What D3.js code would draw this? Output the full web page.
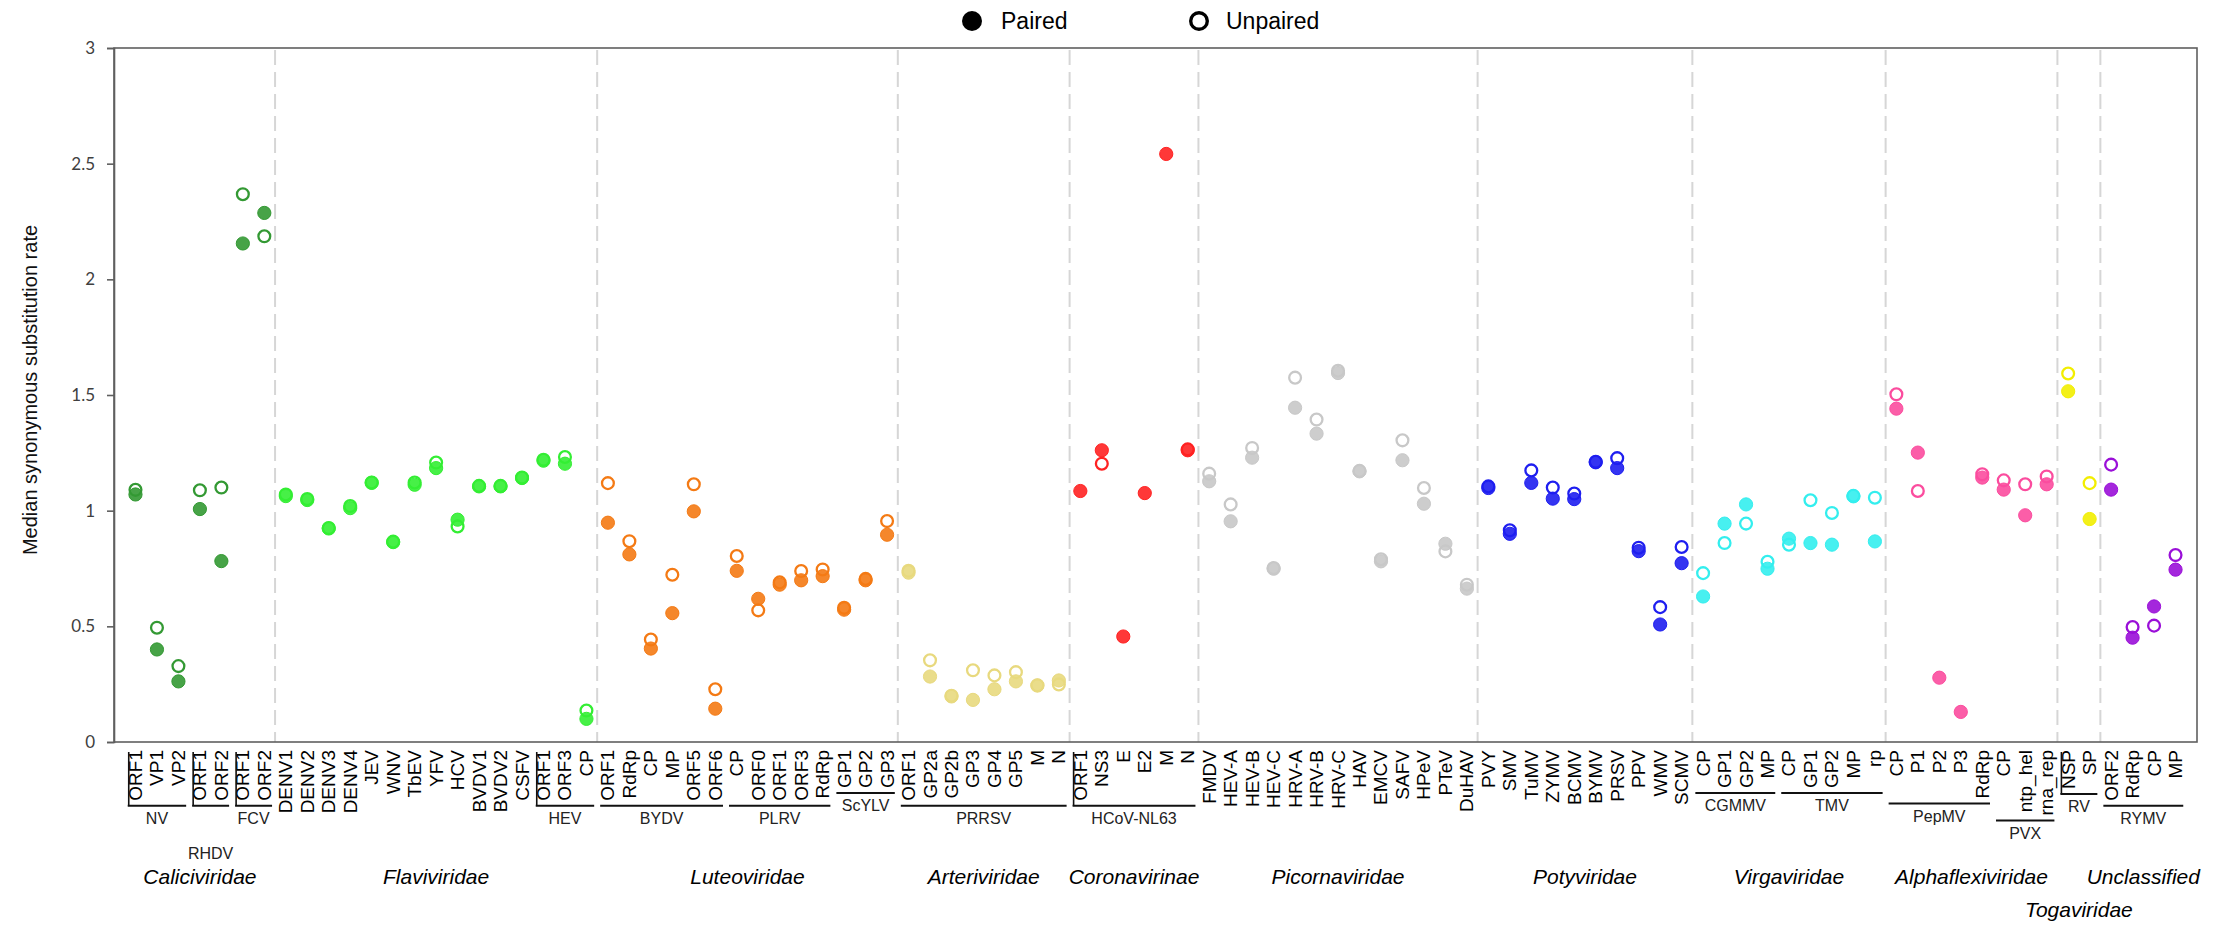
<!DOCTYPE html>
<html>
<head>
<meta charset="utf-8">
<script src="https://cdn.jsdelivr.net/npm/d3@7"></script>
<style>
  html, body { margin: 0; padding: 0; background: #ffffff; }
  svg { display: block; }
</style>
</head>
<body>
<svg id="chart" width="2216" height="927"></svg>
<script>
// ---- data -------------------------------------------------------------
const familyNames = ["Caliciviridae", "Flaviviridae", "Luteoviridae", "Arteriviridae",
  "Coronavirinae", "Picornaviridae", "Potyviridae", "Virgaviridae",
  "Alphaflexiviridae", "Togaviridae", "Unclassified"];
const familySizes = [7, 15, 14, 8, 6, 13, 10, 9, 8, 2, 4];
const familyColors = ["#339933", "#33ee33", "#f47a14", "#e8d97e", "#ff2222", "#c8c8c8",
  "#1e1ef0", "#33eeee", "#fb4c9e", "#f2ee00", "#9a0fd8"];
// family names set on a second, lower row
const familyLowerRow = ["Togaviridae"];

const geneLabels = [
  "ORF1", "VP1", "VP2", "ORF1", "ORF2", "ORF1", "ORF2",
  "DENV1", "DENV2", "DENV3", "DENV4", "JEV", "WNV", "TbEV", "YFV", "HCV", "BVDV1", "BVDV2", "CSFV", "ORF1", "ORF3", "CP",
  "ORF1", "RdRp", "CP", "MP", "ORF5", "ORF6", "CP", "ORF0", "ORF1", "ORF3", "RdRp", "GP1", "GP2", "GP3",
  "ORF1", "GP2a", "GP2b", "GP3", "GP4", "GP5", "M", "N",
  "ORF1", "NS3", "E", "E2", "M", "N",
  "FMDV", "HEV-A", "HEV-B", "HEV-C", "HRV-A", "HRV-B", "HRV-C", "HAV", "EMCV", "SAFV", "HPeV", "PTeV", "DuHAV",
  "PVY", "SMV", "TuMV", "ZYMV", "BCMV", "BYMV", "PRSV", "PPV", "WMV", "SCMV",
  "CP", "GP1", "GP2", "MP", "CP", "GP1", "GP2", "MP", "rp",
  "CP", "P1", "P2", "P3", "RdRp", "CP", "ntp_hel", "rna_rep",
  "NSP", "SP",
  "ORF2", "RdRp", "CP", "MP"
];

const pairedRates = [
  1.07, 0.40, 0.262, 1.007, 0.782, 2.155, 2.287,
  1.063, 1.046, 0.923, 1.011, 1.12, 0.864, 1.112, 1.184, 0.961, 1.105, 1.105, 1.141, 1.216, 1.203, 0.10,
  0.948, 0.811, 0.404, 0.557, 0.997, 0.144, 0.74, 0.619, 0.68, 0.699, 0.717, 0.572, 0.699, 0.896,
  0.732, 0.283, 0.197, 0.182, 0.228, 0.262, 0.244, 0.266,
  1.085, 1.261, 0.456, 1.076, 2.542, 1.261,
  1.127, 0.954, 1.229, 0.749, 1.445, 1.333, 1.595, 1.17, 0.781, 1.218, 1.03, 0.857, 0.663,
  1.098, 0.90, 1.12, 1.052, 1.05, 1.209, 1.184, 0.825, 0.508, 0.773,
  0.629, 0.944, 1.027, 0.749, 0.879, 0.86, 0.853, 1.062, 0.867,
  1.441, 1.251, 0.278, 0.13, 1.143, 1.091, 0.98, 1.114,
  1.516, 0.964,
  1.091, 0.451, 0.586, 0.745
];

const unpairedRates = [
  1.09, 0.494, 0.328, 1.088, 1.10, 2.368, 2.186,
  1.07, 1.05, 0.925, 1.02, 1.122, 0.866, 1.122, 1.208, 0.932, 1.107, 1.107, 1.143, 1.22, 1.232, 0.136,
  1.119, 0.868, 0.443, 0.723, 1.114, 0.228, 0.804, 0.569, 0.69, 0.739, 0.746, 0.58, 0.705, 0.955,
  0.74, 0.353, 0.20, 0.31, 0.288, 0.302, 0.245, 0.249,
  null, 1.203, null, null, null, 1.265,
  1.16, 1.027, 1.271, 0.752, 1.575, 1.394, 1.605, 1.172, 0.79, 1.304, 1.098, 0.824, 0.68,
  1.105, 0.915, 1.174, 1.10, 1.074, 1.211, 1.227, 0.84, 0.583, 0.843,
  0.73, 0.86, 0.944, 0.779, 0.853, 1.045, 0.99, 1.064, 1.056,
  1.503, 1.085, null, null, 1.157, 1.131, 1.114, 1.148,
  1.593, 1.119,
  1.199, 0.497, 0.503, 0.808
];

// virus sub-groups: name and first / last gene index
const virusGroupNames = ["NV", "RHDV", "FCV", "HEV", "BYDV", "PLRV", "ScYLV", "PRRSV",
  "HCoV-NL63", "CGMMV", "TMV", "PepMV", "PVX", "RV", "RYMV"];
const virusGroupFirst = [0, 3, 5, 19, 22, 28, 33, 36, 44, 73, 77, 82, 87, 90, 92];
const virusGroupLast  = [2, 4, 6, 21, 27, 32, 35, 43, 49, 76, 81, 86, 89, 91, 95];
// sub-group names set on a lower row
const virusGroupLowerRow = ["RHDV"];
// sub-groups whose bracket has a vertical stroke on its left end
const virusGroupBracketed = ["NV", "RHDV", "FCV", "HEV", "HCoV-NL63", "RV"];

const yTickValues = [0, 0.5, 1, 1.5, 2, 2.5, 3];
const legendLabels = ["Paired", "Unpaired"];
const yTitle = "Median synonymous substitution rate";

// ---- layout -----------------------------------------------------------
const plot = { left: 114, right: 2197, top: 48, bottom: 742 };
const svg = d3.select("#chart");

const familyOf = [];
familySizes.forEach((n, f) => { for (let k = 0; k < n; k++) familyOf.push(f); });
const familyStart = familySizes.map((n, f) => d3.sum(familySizes.slice(0, f)));

const x = d3.scalePoint()
  .domain(d3.range(geneLabels.length))
  .range([plot.left, plot.right])
  .padding(1);

const y = d3.scaleLinear().domain([0, 3]).range([plot.bottom, plot.top]);

const FONT = "'Liberation Sans', Arial, sans-serif";

// family separators (dashed)
const sepG = svg.append("g");
familyStart.slice(1).forEach(s => {
  const sx = (x(s - 1) + x(s)) / 2;
  sepG.append("line")
    .attr("x1", sx).attr("x2", sx)
    .attr("y1", plot.top + 2).attr("y2", plot.bottom)
    .attr("stroke", "#d6d6d6")
    .attr("stroke-width", 2)
    .attr("stroke-dasharray", "15,7");
});

// frame
svg.append("rect")
  .attr("x", plot.left).attr("y", plot.top)
  .attr("width", plot.right - plot.left)
  .attr("height", plot.bottom - plot.top)
  .attr("fill", "none")
  .attr("stroke", "#5f5f5f")
  .attr("stroke-width", 1.6);

// y axis
const yAxis = svg.append("g")
  .attr("transform", `translate(${plot.left},0)`)
  .call(d3.axisLeft(y).tickValues(yTickValues).tickSize(7).tickPadding(12)
    .tickFormat(d => String(d)));
yAxis.select(".domain").attr("stroke", "#5f5f5f").attr("stroke-width", 1.6);
yAxis.selectAll(".tick line").attr("stroke", "#5f5f5f").attr("stroke-width", 1.6);
yAxis.selectAll(".tick text")
  .attr("font-family", "Lato, 'Open Sans', sans-serif")
  .attr("font-size", 17)
  .attr("fill", "#404040");

svg.append("text")
  .attr("transform", `translate(30,${(plot.top + plot.bottom) / 2 - 5}) rotate(-90)`)
  .attr("text-anchor", "middle")
  .attr("dominant-baseline", "central")
  .attr("font-family", FONT)
  .attr("font-size", 20)
  .attr("fill", "#111")
  .text(yTitle);

// points: unpaired rings first, paired discs on top
const idx = d3.range(geneLabels.length);
svg.append("g").selectAll("circle")
  .data(idx.filter(i => unpairedRates[i] != null))
  .join("circle")
  .attr("cx", i => x(i))
  .attr("cy", i => y(unpairedRates[i]))
  .attr("r", 5.9)
  .attr("fill", "none")
  .attr("stroke", i => familyColors[familyOf[i]])
  .attr("stroke-width", 2.3);

svg.append("g").selectAll("circle")
  .data(idx.filter(i => pairedRates[i] != null))
  .join("circle")
  .attr("cx", i => x(i))
  .attr("cy", i => y(pairedRates[i]))
  .attr("r", 6.6)
  .attr("fill", i => familyColors[familyOf[i]])
  .attr("fill-opacity", 0.9)
  .attr("stroke", i => familyColors[familyOf[i]])
  .attr("stroke-width", 1);

// gene labels
const labelTop = plot.bottom + 8;
const geneText = svg.append("g").selectAll("text")
  .data(idx)
  .join("text")
  .attr("transform", i => `translate(${x(i)},${labelTop}) rotate(-90)`)
  .attr("text-anchor", "end")
  .attr("dominant-baseline", "central")
  .attr("font-family", FONT)
  .attr("font-size", 19)
  .attr("fill", "#000")
  .text(i => geneLabels[i]);
const labelLen = geneText.nodes().map(n => n.getComputedTextLength());

// virus sub-group brackets and names
const step = x.step();
const grpG = svg.append("g");
virusGroupNames.forEach((name, g) => {
  const a = virusGroupFirst[g], b = virusGroupLast[g];
  const ly = labelTop + d3.max(labelLen.slice(a, b + 1)) + 5;
  const x1 = x(a) - step / 2 + 3, x2 = x(b) + step / 2 - 3;
  grpG.append("line")
    .attr("x1", x1).attr("x2", x2)
    .attr("y1", ly).attr("y2", ly)
    .attr("stroke", "#111").attr("stroke-width", 2);
  if (virusGroupBracketed.includes(name)) {
    grpG.append("line")
      .attr("x1", x1 + 1).attr("x2", x1 + 1)
      .attr("y1", labelTop + 2).attr("y2", ly)
      .attr("stroke", "#111").attr("stroke-width", 1.6);
  }
  const lower = virusGroupLowerRow.includes(name) ? 35 : 0;
  grpG.append("text")
    .attr("x", (x1 + x2) / 2)
    .attr("y", ly + 18 + lower)
    .attr("text-anchor", "middle")
    .attr("font-family", FONT)
    .attr("font-size", 16)
    .attr("fill", "#222")
    .text(name);
});

// family names
familyNames.forEach((name, f) => {
  const a = familyStart[f], b = a + familySizes[f] - 1;
  const lower = familyLowerRow.includes(name) ? 33 : 0;
  svg.append("text")
    .attr("x", (x(a) + x(b)) / 2)
    .attr("y", 884 + lower)
    .attr("text-anchor", "middle")
    .attr("font-family", FONT)
    .attr("font-style", "italic")
    .attr("font-size", 21)
    .attr("fill", "#000")
    .text(name);
});

// legend
const legend = svg.append("g");
legend.append("circle").attr("cx", 972).attr("cy", 21).attr("r", 10).attr("fill", "#000");
legend.append("text").attr("x", 1001).attr("y", 29)
  .attr("font-family", FONT).attr("font-size", 23).attr("fill", "#000")
  .text(legendLabels[0]);
legend.append("circle").attr("cx", 1199).attr("cy", 21).attr("r", 8.3)
  .attr("fill", "none").attr("stroke", "#000").attr("stroke-width", 3.4);
legend.append("text").attr("x", 1226).attr("y", 29)
  .attr("font-family", FONT).attr("font-size", 23).attr("fill", "#000")
  .text(legendLabels[1]);
</script>
</body>
</html>
